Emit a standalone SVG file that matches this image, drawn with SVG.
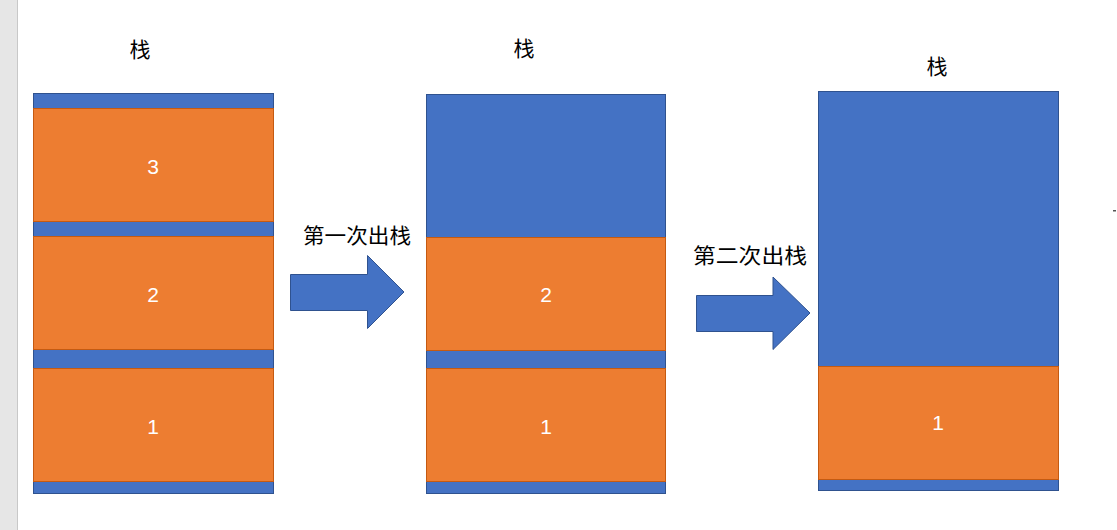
<svg xmlns="http://www.w3.org/2000/svg" width="1117" height="530" viewBox="0 0 1117 530">
<style>
.bg{fill:#ffffff}
.stack{fill:#4472C4;stroke:#2F528F;stroke-width:1}
.item{fill:#ED7D31;stroke:#C55A11;stroke-width:1}
.num{font-family:"Liberation Sans",Arial,sans-serif;font-size:21px;fill:#ffffff;text-anchor:middle}
.cap{font-family:"Noto Sans CJK SC","Noto Sans",sans-serif;font-size:21px;fill:#000000;text-anchor:middle}
.arrow{fill:#4472C4;stroke:#2F528F;stroke-width:1}
</style>
<rect class="bg" x="0" y="0" width="1117" height="530"/>
<rect x="0" y="0" width="17" height="530" fill="#e6e6e6"/>
<line x1="17.5" y1="0" x2="17.5" y2="530" stroke="#c8c8c8" stroke-width="1"/>

<g id="stack1">
  <text class="cap" x="140" y="57">栈</text>
  <rect class="stack" x="33.5" y="93.5" width="240" height="400"/>
  <rect class="item" x="33.5" y="108.5" width="240" height="113"/>
  <text class="num" x="153" y="174">3</text>
  <rect class="item" x="33.5" y="236.5" width="240" height="113"/>
  <text class="num" x="153" y="302">2</text>
  <rect class="item" x="33.5" y="368.5" width="240" height="113"/>
  <text class="num" x="153" y="434">1</text>
</g>

<g id="stack2">
  <text class="cap" x="524" y="56">栈</text>
  <rect class="stack" x="426.5" y="94.5" width="239" height="399"/>
  <rect class="item" x="426.5" y="237.5" width="239" height="113"/>
  <text class="num" x="546" y="302">2</text>
  <rect class="item" x="426.5" y="368.5" width="239" height="113"/>
  <text class="num" x="546" y="434">1</text>
</g>

<g id="stack3">
  <text class="cap" x="937" y="74">栈</text>
  <rect class="stack" x="818.5" y="91.5" width="240" height="399"/>
  <rect class="item" x="818.5" y="366.5" width="240" height="113"/>
  <text class="num" x="938" y="430">1</text>
</g>

<g id="connectors">
  <g id="pop1">
    <text class="cap" x="357" y="243" textLength="108" lengthAdjust="spacingAndGlyphs">第一次出栈</text>
    <polygon class="arrow" points="290.5,274.5 367.5,274.5 367.5,255.5 404,292 367.5,328.5 367.5,310.5 290.5,310.5"/>
  </g>
  <g id="pop2">
    <text class="cap" x="750" y="263" textLength="114" lengthAdjust="spacingAndGlyphs">第二次出栈</text>
    <polygon class="arrow" points="696.5,295.5 773,295.5 773,277 810,313 773,349.5 773,331.5 696.5,331.5"/>
  </g>
</g>

<rect x="1113" y="210" width="3" height="1.5" fill="#555555"/>
</svg>
